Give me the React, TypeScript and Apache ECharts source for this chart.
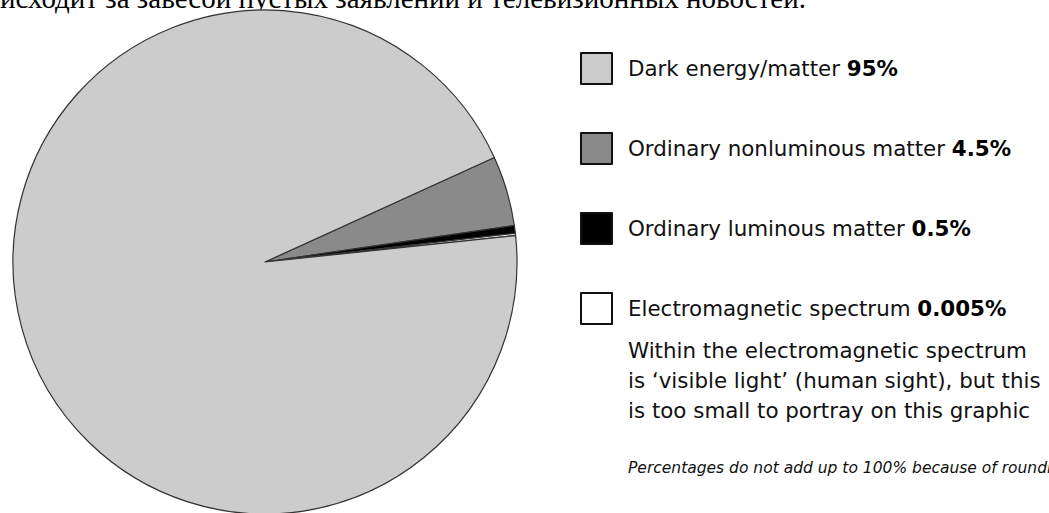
import React, { useEffect, useRef } from "react";
import * as echarts from "echarts";

const categories = [
  "Ordinary nonluminous matter",
  "Ordinary luminous matter",
  "Electromagnetic spectrum",
  "Dark energy/matter",
];
const values = [4.5, 0.5, 0.005, 95];
const percentLabels = ["4.5%", "0.5%", "0.005%", "95%"];
const colors = ["#8a8a8a", "#000000", "#ffffff", "#cccccc"];
const legendOrder = [
  "Dark energy/matter",
  "Ordinary nonluminous matter",
  "Ordinary luminous matter",
  "Electromagnetic spectrum",
];
const noteLines = [
  "Within the electromagnetic spectrum",
  "is \u2018visible light\u2019 (human sight), but this",
  "is too small to portray on this graphic",
];
const footnote = "Percentages do not add up to 100% because of rounding";
const topText = "исходит за завесой пустых заявлений и телевизионных новостей.";

const SANS = "'DejaVu Sans', Verdana, sans-serif";

export default function App() {
  const ref = useRef<HTMLDivElement>(null);
  useEffect(() => {
    if (!ref.current) return;
    const chart = echarts.init(ref.current, null, { renderer: "svg" });
    const pctOf: Record<string, string> = {};
    categories.forEach((c, i) => (pctOf[c] = percentLabels[i]));
    chart.setOption({
      animation: false,
      backgroundColor: "#ffffff",
      legend: {
        orient: "vertical",
        left: 580,
        top: 52,
        padding: 0,
        icon: "rect",
        itemWidth: 31,
        itemHeight: 31,
        itemGap: 47,
        selectedMode: false,
        data: legendOrder,
        itemStyle: { borderColor: "#111", borderWidth: 2 },
        formatter: (name: string) => `${name} {b|${pctOf[name]}}`,
        textStyle: {
          fontFamily: SANS,
          fontSize: 21.4,
          lineHeight: 26,
          color: "#111",
          padding: [0, 0, 0, 11],
          rich: {
            b: {
              fontFamily: SANS,
              fontSize: 21.4,
              lineHeight: 26,
              fontWeight: "bold",
              color: "#000",
            },
          },
        },
      },
      graphic: [
        {
          type: "text",
          left: 0,
          top: -17,
          style: {
            text: topText,
            font: "29px 'Liberation Serif', 'Times New Roman', serif",
            fill: "#000",
          },
        },
        {
          type: "text",
          left: 628,
          top: 335,
          style: {
            text: noteLines.join("\n"),
            font: `21.4px ${SANS}`,
            lineHeight: 30,
            fill: "#111",
          },
        },
        {
          type: "text",
          left: 628,
          top: 460,
          style: {
            text: footnote,
            font: `italic 15.5px ${SANS}`,
            fill: "#111",
          },
        },
      ],
      series: [
        {
          type: "pie",
          center: [265, 262],
          radius: [0, 252],
          startAngle: 24.5,
          clockwise: true,
          minAngle: 0.5,
          avoidLabelOverlap: false,
          label: { show: false },
          labelLine: { show: false },
          emphasis: { disabled: true },
          itemStyle: { borderColor: "#333", borderWidth: 1.2 },
          data: categories.map((c, i) => ({
            name: c,
            value: values[i],
            itemStyle: { color: colors[i] },
          })),
        },
      ],
    });
    return () => chart.dispose();
  }, []);
  return (
    <div
      ref={ref}
      style={{ position: "fixed", left: 0, top: 0, width: 1049, height: 513 }}
    />
  );
}
